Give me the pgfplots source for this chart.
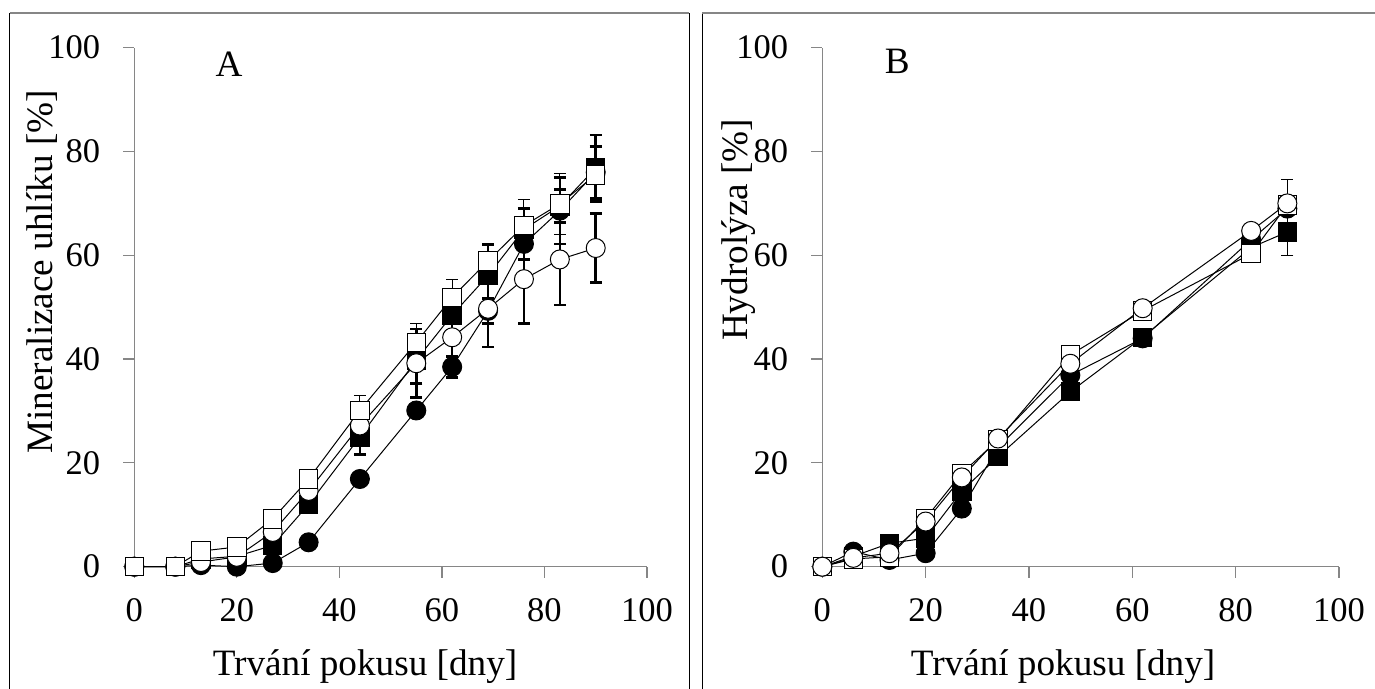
\documentclass[border=0pt]{standalone}
\usepackage{fontspec}
\setmainfont{Liberation Serif}
\usepackage{pgfplots}
\pgfplotsset{compat=1.18}
\definecolor{axgray}{RGB}{134,134,134}
\newcommand{\fs}{\fontsize{17.25}{20}\selectfont}
\newcommand{\fl}{\fontsize{18.6}{22}\selectfont}
\pgfplotsset{
  panel/.style={
    scale only axis, height=259.5pt,
    xmin=0,xmax=100,ymin=0,ymax=100,
    xtick={0,20,...,100}, ytick={0,20,...,100},
    axis x line*=bottom, axis y line*=left,
    axis line style={axgray, line width=0.6pt, -},
    tick style={axgray, line width=0.6pt}, tick align=outside, major tick length=5.5pt,
    clip=false,
    tick label style={font=\fs},
    yticklabel style={xshift=-8pt},
    xticklabel style={yshift=-7pt},
    label style={font=\fl},
    /pgf/number format/assume math mode=true,
  },
  fcm/.style={black, line width=0.5pt, mark=*, mark size=4.75pt, mark options={fill=black, draw=black, line width=0.5pt, solid}},
  ocm/.style={black, line width=0.5pt, mark=*, mark size=4.75pt, mark options={fill=white, draw=black, line width=0.5pt, solid}},
  fsm/.style={black, line width=0.5pt, mark=square*, mark size=4.6pt, mark options={fill=black, draw=black, line width=0.5pt, solid}},
  osm/.style={black, line width=0.5pt, mark=square*, mark size=4.6pt, mark options={fill=white, draw=black, line width=0.5pt, solid}},
  ebthick/.style={error bars/.cd, y dir=both, y explicit,
    error bar style={line width=1.3pt, black},
    error mark options={rotate=90, mark size=3pt, line width=1.3pt, black}},
  ebthin/.style={error bars/.cd, y dir=both, y explicit,
    error bar style={line width=0.5pt, black},
    error mark options={rotate=90, mark size=3pt, line width=0.5pt, black}},
}
\pgfplotstableread{
x y e
0 0 0
8 0 0
13 0.3 0
20 0 0
27 0.7 0
34 4.7 0
44 16.9 0
55 30.1 0
62 38.5 2
69 49.3 2.4
76 62.2 3
83 68.6 6.4
90 76 5
}\Afc
\pgfplotstableread{
x y e
0 0 0
8 0 0
13 1.5 0
20 2 0
27 4.1 0
34 12 0
44 25 3.4
55 39.8 4.5
62 48.5 3
69 56.1 6
76 65 4
83 69.5 3.2
90 76.8 6.4
}\Afs
\pgfplotstableread{
x y e
0 0 0
8 0 0
13 0.9 0
20 1.9 0
27 6.7 0
34 14.6 0
44 27.2 1
55 39.2 6.6
62 44.2 6
69 49.7 7.4
76 55.4 8.5
83 59.2 8.8
90 61.4 6.7
}\Aoc
\pgfplotstableread{
x y e
0 0 0
8 0 0
13 3 0
20 3.8 0
27 9.2 1
34 16.9 1.5
44 30.1 2.9
55 43.2 3.6
62 51.9 3.5
69 58.9 3.2
76 65.7 5
83 69.9 5.8
90 75.5 5.3
}\Aos
\pgfplotstableread{
x y e
0 0 0
6 2.9 0
13 1.3 0
20 2.6 0
27 11.2 0
34 23 0
48 36.9 0
62 44 0
83 63 0
90 69 0
}\Bfc
\pgfplotstableread{
x y e
0 0 0
6 2 0
13 4.5 0
20 5.5 0
27 14.6 0
34 21.2 0
48 33.7 0
62 44.2 0
83 61.5 0
90 64.5 4.6
}\Bfs
\pgfplotstableread{
x y e
0 0 0
6 1.5 0
13 1.9 0
20 9.3 0
27 18 0
34 24.4 0
48 40.8 0
62 49.3 0
83 60.3 0
90 69.7 0
}\Bos
\pgfplotstableread{
x y e
0 0 0
6 1.7 0
13 2.6 0
20 8.7 0
27 17.2 0
34 24.7 0
48 39.1 0
62 49.8 0
83 64.7 0
90 70 4.6
}\Boc
\begin{document}
\begin{tikzpicture}
\path[use as bounding box] (0pt,0pt) rectangle (687.5pt,344.5pt);
% panel frames
\draw[black, line width=0.5pt] (4.75pt,-3pt) -- (4.75pt,338pt);
\draw[black, line width=0.5pt] (344.65pt,-3pt) -- (344.65pt,338pt);
\draw[black, line width=0.5pt] (351.15pt,-3pt) -- (351.15pt,338pt);
\draw[axgray, line width=1pt] (4.75pt,338pt) -- (344.65pt,338pt);
\draw[axgray, line width=1pt] (351.15pt,338pt) -- (690pt,338pt);
\begin{axis}[panel, width=256.35pt, at={(67.15pt,61.15pt)}, anchor=south west,
  xlabel={Trvání pokusu [dny]}, ylabel={Mineralizace uhlíku [\%]},
  xlabel style={at={(axis description cs:0.45,-0.193)}, anchor=center},
  ylabel style={at={(axis description cs:-0.18,0.568)}, anchor=center}]
\addplot[fcm, ebthick] table[x=x,y=y,y error=e] {\Afc};
\addplot[fsm, ebthick] table[x=x,y=y,y error=e] {\Afs};
\addplot[ocm, ebthick] table[x=x,y=y,y error=e] {\Aoc};
\addplot[osm, ebthin] table[x=x,y=y,y error=e] {\Aos};
\node[font=\fl] at (axis cs:18.5,96.9) {A};
\end{axis}
\begin{axis}[panel, width=258.35pt, at={(411.15pt,61.15pt)}, anchor=south west,
  xlabel={Trvání pokusu [dny]}, ylabel={Hydrolýza [\%]},
  xlabel style={at={(axis description cs:0.466,-0.193)}, anchor=center},
  ylabel style={at={(axis description cs:-0.162,0.649)}, anchor=center}]
\addplot[fcm, ebthin] table[x=x,y=y,y error=e] {\Bfc};
\addplot[fsm, ebthin] table[x=x,y=y,y error=e] {\Bfs};
\addplot[osm, ebthin] table[x=x,y=y,y error=e] {\Bos};
\addplot[ocm, ebthin] table[x=x,y=y,y error=e] {\Boc};
\node[font=\fl] at (axis cs:14.5,97.3) {B};
\end{axis}
\end{tikzpicture}
\end{document}
